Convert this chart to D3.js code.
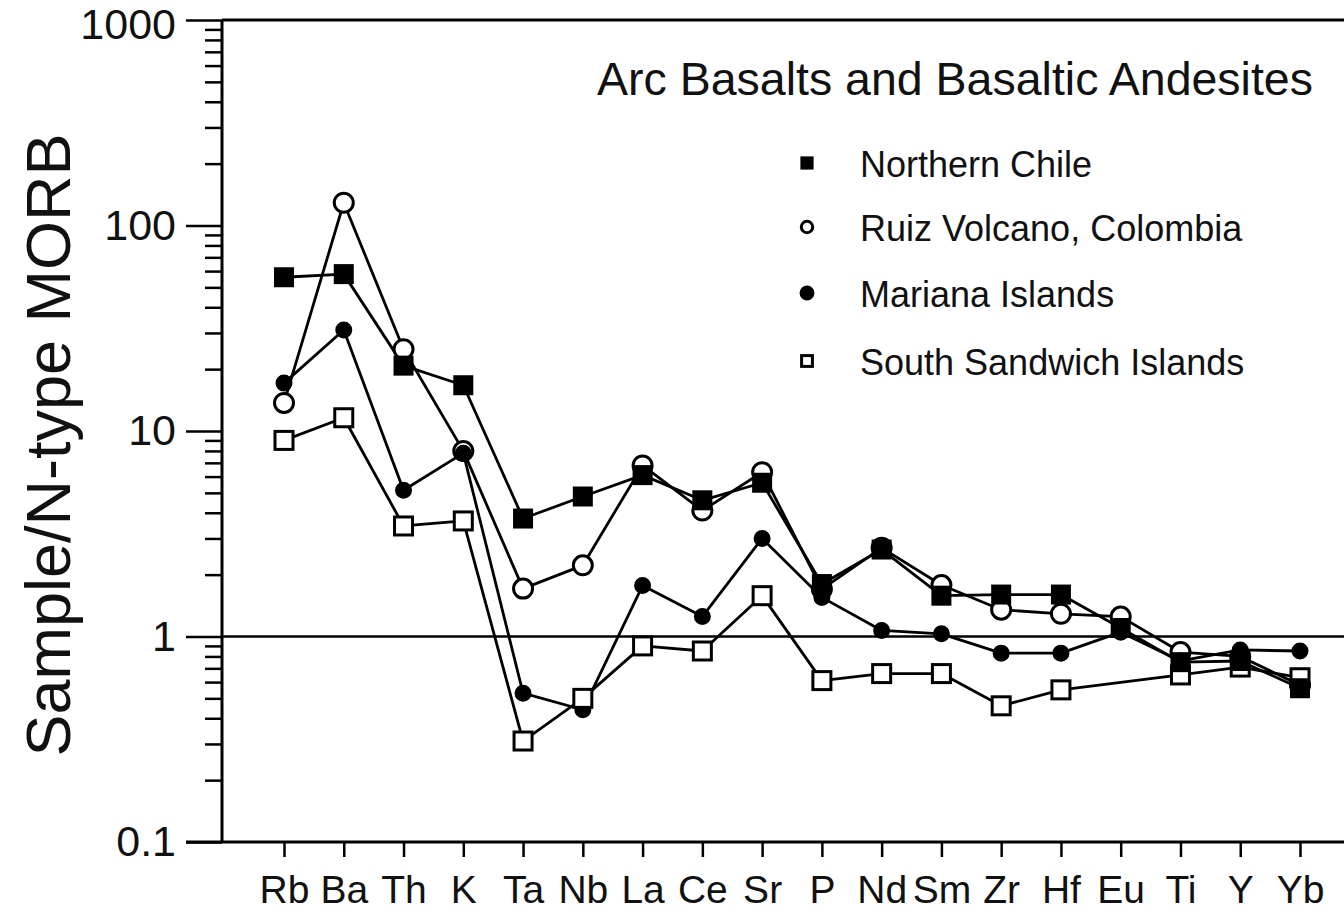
<!DOCTYPE html>
<html>
<head>
<meta charset="utf-8">
<script src="https://cdn.jsdelivr.net/npm/d3@7"></script>
<style>
  html, body { margin: 0; padding: 0; background: #fff; }
  svg { display: block; font-family: "Liberation Sans", Arial, Helvetica, sans-serif; }
</style>
</head>
<body>
<div id="chart"></div>
<script>
'use strict';

// elements along the spider diagram
var elements = ['Rb','Ba','Th','K','Ta','Nb','La','Ce','Sr','P','Nd','Sm','Zr','Hf','Eu','Ti','Y','Yb'];

// sample / N-type MORB
var northernChile = [56, 58, 20.8, 16.7, 3.75, 4.8, 6.1, 4.6, 5.6, 1.8, 2.65, 1.58, 1.6, 1.6, 1.1, 0.75, 0.76, 0.56];
var ruizColombia  = [13.7, 129, 25, 8, 1.71, 2.22, 6.8, 4.1, 6.3, 1.7, 2.7, 1.78, 1.35, 1.29, 1.25, 0.84, 0.8, 0.58];
var marianaIslands = [17.1, 31, 5.15, 7.8, 0.53, 0.44, 1.77, 1.25, 3.0, 1.55, 1.07, 1.03, 0.83, 0.83, 1.05, 0.76, 0.86, 0.85];
var southSandwich = [9.0, 11.6, 3.45, 3.65, 0.31, 0.5, 0.9, 0.85, 1.58, 0.61, 0.66, 0.66, 0.46, 0.55, null, 0.65, 0.71, 0.63];

var seriesNames = ['Northern Chile', 'Ruiz Volcano, Colombia', 'Mariana Islands', 'South Sandwich Islands'];
var yTickValues = [0.1, 1, 10, 100, 1000];
var titleText = 'Arc Basalts and Basaltic Andesites';
var yLabel = 'Sample/N-type MORB';

var width = 1344, height = 921;
var axisX = 222, yTop = 20, yBottom = 842;

var svg = d3.select('#chart').append('svg')
    .attr('width', width)
    .attr('height', height);

var x = d3.scalePoint()
    .domain(elements)
    .range([284, 1300]);

var y = d3.scaleLog()
    .domain([0.1, 1000])
    .range([yBottom, yTop]);

// top frame line and the line at 1
svg.append('line')
    .attr('x1', axisX).attr('x2', width)
    .attr('y1', y(1000)).attr('y2', y(1000))
    .attr('stroke', '#000').attr('stroke-width', 3);

svg.append('line')
    .attr('x1', axisX).attr('x2', width)
    .attr('y1', y(1)).attr('y2', y(1))
    .attr('stroke', '#000').attr('stroke-width', 2.5);

// left axis: major ticks with labels
var yAxis = svg.append('g')
    .attr('transform', 'translate(' + axisX + ',0)')
    .call(d3.axisLeft(y).tickValues(yTickValues).tickSize(36).tickPadding(10)
      .tickFormat(function(d) { return String(d); }));

// minor ticks
var minor = [];
[0.1, 1, 10, 100].forEach(function(dec) {
  for (var k = 2; k <= 9; k++) minor.push(dec * k);
});
var minorAxis = svg.append('g')
    .attr('transform', 'translate(' + axisX + ',0)')
    .call(d3.axisLeft(y).tickValues(minor).tickSize(17).tickFormat(''));
minorAxis.select('.domain').remove();
minorAxis.selectAll('.tick line').attr('stroke-width', 2.5);

yAxis.select('.domain').attr('stroke-width', 3).attr('d', 'M0,' + yBottom + 'V' + yTop);
yAxis.selectAll('.tick line').attr('stroke-width', 2.5);
yAxis.selectAll('.tick text')
    .attr('font-size', 43)
    .attr('font-family', '"Liberation Sans", Arial, sans-serif')
    .attr('fill', '#111')
    .attr('dy', function(d) { return d === 1000 ? '0.42em' : '0.32em'; });

svg.selectAll('.tick line').attr('stroke', '#000');

// bottom axis
var xAxis = svg.append('g')
    .attr('transform', 'translate(0,' + yBottom + ')')
    .call(d3.axisBottom(x).tickSize(15).tickPadding(18));
xAxis.select('.domain').attr('d', 'M' + (axisX - 36) + ',0H' + width).attr('stroke-width', 3);
xAxis.selectAll('.tick line').attr('stroke-width', 2.5);
xAxis.selectAll('.tick text')
    .attr('font-size', 39)
    .attr('font-family', '"Liberation Sans", Arial, sans-serif')
    .attr('fill', '#111');

// y axis label
svg.append('text')
    .attr('transform', 'translate(70,445) rotate(-90)')
    .attr('text-anchor', 'middle')
    .attr('font-size', 63)
    .attr('fill', '#111')
    .text(yLabel);

// title
svg.append('text')
    .attr('x', 597).attr('y', 95)
    .attr('font-size', 46.5)
    .attr('fill', '#111')
    .text(titleText);

// series
var allSeries = [northernChile, ruizColombia, marianaIslands, southSandwich];
var symbols = [
  { shape: 'square', fill: '#000', size: 17 },
  { shape: 'circle', fill: '#fff', size: 9.5 },
  { shape: 'circle', fill: '#000', size: 7 },
  { shape: 'square', fill: '#fff', size: 18 }
];

var line = d3.line()
    .x(function(d) { return x(d.el); })
    .y(function(d) { return y(d.v); });

var seriesData = allSeries.map(function(vals) {
  return elements.map(function(el, i) { return { el: el, v: vals[i] }; })
    .filter(function(d) { return d.v != null; });
});

svg.append('g').selectAll('path')
    .data(seriesData)
  .enter().append('path')
    .attr('d', line)
    .attr('fill', 'none')
    .attr('stroke', '#000')
    .attr('stroke-width', 2.8)
    .attr('stroke-linejoin', 'round');

function drawMarker(g, sym, cx, cy, scale) {
  var s = sym.size * scale;
  if (sym.shape === 'square') {
    g.append('rect')
      .attr('x', cx - s / 2).attr('y', cy - s / 2)
      .attr('width', s).attr('height', s)
      .attr('fill', sym.fill).attr('stroke', '#000').attr('stroke-width', 3);
  } else {
    g.append('circle')
      .attr('cx', cx).attr('cy', cy).attr('r', s)
      .attr('fill', sym.fill).attr('stroke', '#000').attr('stroke-width', 3);
  }
}

// stacking order of overlapping markers as in the original
var markerG = svg.append('g');
[1, 2, 3, 0].forEach(function(si) {
  seriesData[si].forEach(function(d) {
    drawMarker(markerG, symbols[si], x(d.el), y(d.v), 1);
  });
});

// legend
var legendRows = [166, 230, 296, 364];
var legend = svg.append('g');
seriesNames.forEach(function(name, i) {
  drawMarker(legend, symbols[i], 807, legendRows[i] - 3, i === 2 ? 0.85 : 0.6);
  legend.append('text')
    .attr('x', 860).attr('y', legendRows[i] + 11)
    .attr('font-size', 36)
    .attr('fill', '#111')
    .text(name);
});
</script>
</body>
</html>
